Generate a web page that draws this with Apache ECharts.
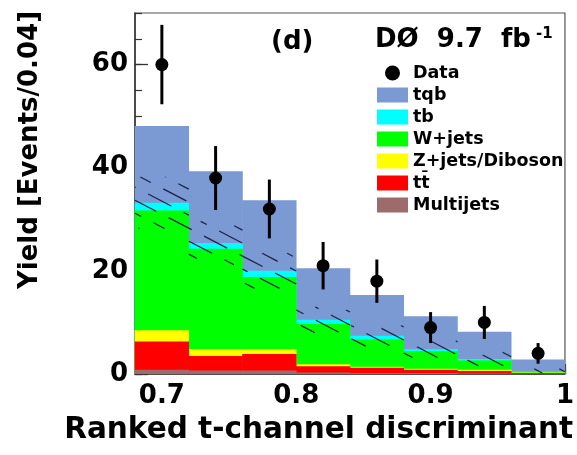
<!DOCTYPE html>
<html>
<head>
<meta charset="utf-8">
<script src="https://cdn.jsdelivr.net/npm/echarts@6/dist/echarts.min.js"></script>
<style>
  html, body { margin: 0; padding: 0; background: #fff; }
  #chart { width: 577px; height: 455px; }
</style>
</head>
<body>
<div id="chart"></div>
<script>
// Bin edges of the ranked t-channel discriminant (bin width 0.04)
const binEdges = [0.68, 0.72, 0.76, 0.80, 0.84, 0.88, 0.92, 0.96, 1.00];

// Observed events per bin and their statistical uncertainties
const dataCounts = [60, 38, 32, 21, 18, 9, 10, 4];
const dataErrors = [7.7, 6.2, 5.7, 4.6, 4.2, 3.0, 3.2, 2.0];

// Predicted yields per bin for each process
const multijets    = [0.8, 0.7, 0.7, 0.3, 0.2, 0.2, 0.1, 0.05];
const ttbar        = [5.5, 2.8, 3.2, 1.2, 1.0, 0.6, 0.5, 0.15];
const zjetsDiboson = [2.2, 1.3, 0.9, 0.4, 0.2, 0.2, 0.2, 0.1];
const wjets        = [23.2, 19.5, 14.0, 7.8, 5.3, 3.4, 1.8, 0.2];
const tb           = [1.5, 1.1, 1.2, 0.8, 0.7, 0.4, 0.3, 0.1];
const tqb          = [14.9, 13.9, 13.7, 10.0, 7.9, 6.4, 5.3, 2.2];

// Uncertainty on the total background prediction (hatched band)
const bkgUncert = [5.0, 4.2, 3.4, 2.5, 2.0, 1.6, 1.3, 0.4];

// Axis tick values
const xTickValues  = [0.7, 0.8, 0.9, 1.0];
const xMinorValues = [0.68, 0.70, 0.72, 0.74, 0.76, 0.78, 0.80, 0.82, 0.84, 0.86,
                      0.88, 0.90, 0.92, 0.94, 0.96, 0.98, 1.00];
const yTickValues  = [0, 20, 40, 60];
const yMinorValues = [0, 5, 10, 15, 20, 25, 30, 35, 40, 45, 50, 55, 60, 65, 70];

// Stack order, bottom to top
const stackNames  = ['Multijets', 't\u0074\u0304', 'Z+jets/Diboson', 'W+jets', 'tb', 'tqb'];
const stackValues = [multijets, ttbar, zjetsDiboson, wjets, tb, tqb];
const stackColors = ['#9d6b6b', '#ff0000', '#ffff00', '#00ff00', '#00ffff', '#7b99d2'];

const FONT = 'DejaVu Sans';
const nBins = dataCounts.length;

// cumulative tops of the stack, per component
const cumTops = [];
let running = new Array(nBins).fill(0);
stackValues.forEach(vals => {
  running = running.map((r, i) => r + vals[i]);
  cumTops.push(running.slice());
});
const bkgTotal = cumTops[4]; // everything below tqb

const binCenters = dataCounts.map((_, i) => (binEdges[i] + binEdges[i + 1]) / 2);

// each component drawn as a filled histogram from 0 up to its cumulative top;
// painted tallest first so the lower components cover it
function histSeries(idx) {
  return {
    type: 'custom',
    name: stackNames[idx],
    itemStyle: { color: stackColors[idx] },
    z: 2,
    silent: true,
    data: cumTops[idx].map((top, i) => [binEdges[i], binEdges[i + 1], 0, top]),
    encode: { x: [0, 1], y: [2, 3] },
    renderItem(params, api) {
      const p0 = api.coord([api.value(0), api.value(2)]);
      const p1 = api.coord([api.value(1), api.value(3)]);
      return {
        type: 'rect',
        shape: { x: p0[0] - 0.3, y: p1[1], width: p1[0] - p0[0] + 0.6, height: p0[1] - p1[1] },
        style: { fill: stackColors[idx] }
      };
    }
  };
}

const series = [];
for (let idx = stackNames.length - 1; idx >= 0; idx--) series.push(histSeries(idx));

// hatched uncertainty band around the background prediction
series.push({
  type: 'custom',
  name: 'bkgUnc',
  z: 3,
  silent: true,
  data: bkgTotal.map((t, i) => [binEdges[i], binEdges[i + 1], Math.max(0, t - bkgUncert[i]), t + bkgUncert[i]]),
  encode: { x: [0, 1], y: [2, 3] },
  renderItem(params, api) {
    const lo = api.coord([api.value(0), api.value(2)]);
    const hi = api.coord([api.value(1), api.value(3)]);
    const xa = lo[0], xb = hi[0], yTop = hi[1], yBot = lo[1];
    const m = 0.52, gap = 13, period = 40;
    const norm = Math.sqrt(1 + m * m);
    const children = [];
    const kMin = Math.ceil((yTop - m * xb) / gap);
    const kMax = Math.floor((yBot - m * xa) / gap);
    for (let k = kMin; k <= kMax; k++) {
      const c = k * gap;
      const x1 = Math.max(xa, (yTop - c) / m);
      const x2 = Math.min(xb, (yBot - c) / m);
      if (x2 - x1 < 1) continue;
      const off = ((x1 * norm + k * 17) % period + period) % period;
      children.push({
        type: 'line',
        shape: { x1: x1, y1: m * x1 + c, x2: x2, y2: m * x2 + c },
        style: { stroke: '#1c2142', lineWidth: 1.2, lineDash: [26, 14], lineDashOffset: off }
      });
    }
    return { type: 'group', children: children };
  }
});

// data error bars
series.push({
  type: 'custom',
  name: 'Data',
  itemStyle: { color: '#000' },
  z: 4,
  silent: true,
  data: dataCounts.map((v, i) => [binCenters[i], v - dataErrors[i], v + dataErrors[i]]),
  encode: { x: 0, y: [1, 2] },
  renderItem(params, api) {
    const a = api.coord([api.value(0), api.value(1)]);
    const b = api.coord([api.value(0), api.value(2)]);
    return {
      type: 'line',
      shape: { x1: a[0], y1: a[1], x2: b[0], y2: b[1] },
      style: { stroke: '#000', lineWidth: 3 }
    };
  }
});

// data points
series.push({
  type: 'scatter',
  name: 'Data',
  z: 5,
  silent: true,
  symbol: 'circle',
  symbolSize: 13,
  itemStyle: { color: '#000', opacity: 1 },
  data: dataCounts.map((v, i) => [binCenters[i], v])
});

const axisText = { fontFamily: FONT, fontWeight: 'bold', fontSize: 26, color: '#000' };
const xMin = binEdges[0], xMax = binEdges[binEdges.length - 1];

const option = {
  backgroundColor: '#fff',
  animation: false,
  grid: {
    left: 135, right: 5, top: 13, bottom: 81,
    show: true, borderColor: '#555', borderWidth: 1.2, backgroundColor: 'transparent'
  },
  xAxis: [
    {
      type: 'value', min: xMin, max: xMax, position: 'bottom',
      axisLine: { show: true, onZero: false, lineStyle: { color: '#333', width: 1.5 } },
      axisTick: { show: true, inside: true, length: 10, customValues: xTickValues, lineStyle: { color: '#333', width: 1.3 } },
      axisLabel: { show: true, customValues: xTickValues, margin: 9, ...axisText,
                   formatter: v => (v === 1 ? '1' : v.toFixed(1)) },
      splitLine: { show: false }
    },
    {
      type: 'value', min: xMin, max: xMax, position: 'bottom',
      axisLine: { show: false, onZero: false },
      axisTick: { show: true, inside: true, length: 5, customValues: xMinorValues, lineStyle: { color: '#333', width: 1.2 } },
      axisLabel: { show: false },
      splitLine: { show: false }
    }
  ],
  yAxis: [
    {
      type: 'value', min: 0, max: 70, position: 'left',
      axisLine: { show: true, onZero: false, lineStyle: { color: '#333', width: 1.5 } },
      axisTick: { show: true, inside: true, length: 13, customValues: yTickValues, lineStyle: { color: '#333', width: 1.3 } },
      axisLabel: { show: true, customValues: yTickValues, margin: 7, ...axisText },
      splitLine: { show: false }
    },
    {
      type: 'value', min: 0, max: 70, position: 'left',
      axisLine: { show: false, onZero: false },
      axisTick: { show: true, inside: true, length: 7, customValues: yMinorValues, lineStyle: { color: '#333', width: 1.2 } },
      axisLabel: { show: false },
      splitLine: { show: false }
    }
  ],
  legend: {
    orient: 'vertical',
    left: 372, top: 59,
    itemWidth: 31, itemHeight: 15, itemGap: 4,
    selectedMode: false,
    textStyle: { fontFamily: FONT, fontWeight: 'bold', fontSize: 17.5, color: '#000' },
    data: [
      { name: 'Data', icon: 'circle', itemStyle: { opacity: 1 } },
      { name: 'tqb', icon: 'rect' },
      { name: 'tb', icon: 'rect' },
      { name: 'W+jets', icon: 'rect' },
      { name: 'Z+jets/Diboson', icon: 'rect' },
      { name: 't\u0074\u0304', icon: 'rect' },
      { name: 'Multijets', icon: 'rect' }
    ]
  },
  graphic: [
    {
      type: 'text', left: 271, top: 29, z: 10,
      style: { text: '(d)', fontFamily: FONT, fontWeight: 'bold', fontSize: 26, fill: '#000' }
    },
    {
      type: 'text', left: 375, top: 27, z: 10,
      style: {
        text: '{m|D\u00d8  9.7  fb}{s| -1}',
        rich: {
          m: { fontFamily: FONT, fontWeight: 'bold', fontSize: 26, fill: '#000', color: '#000' },
          s: { fontFamily: FONT, fontWeight: 'bold', fontSize: 15, fill: '#000', color: '#000', verticalAlign: 'top' }
        }
      }
    },
    {
      type: 'text', x: 30, y: 150, rotation: Math.PI / 2, z: 10,
      style: {
        text: 'Yield [Events/0.04]', fontFamily: FONT, fontWeight: 'bold', fontSize: 26,
        fill: '#000', align: 'center', verticalAlign: 'middle'
      }
    },
    {
      type: 'text', x: 573, y: 430, z: 10,
      style: {
        text: 'Ranked t-channel discriminant', fontFamily: FONT, fontWeight: 'bold', fontSize: 29.5,
        fill: '#000', align: 'right', verticalAlign: 'middle'
      }
    }
  ],
  series: series
};

const chart = echarts.init(document.getElementById('chart'), null, { renderer: 'canvas' });
chart.setOption(option);
</script>
</body>
</html>
